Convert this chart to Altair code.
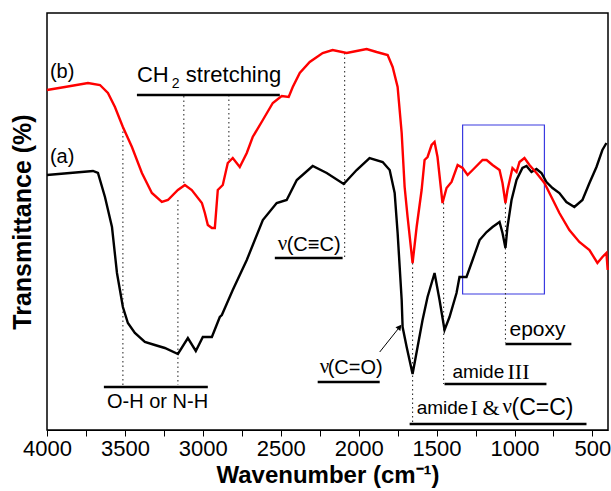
import altair as alt
import pandas as pd

# ---- spectrum (a), black ----
a_wn = [4000, 3853, 3705, 3673, 3628, 3583, 3551, 3513, 3481, 3436, 3372, 3308, 3244, 3160,
        3096, 3045, 3000, 2942, 2891, 2878, 2808, 2718, 2615, 2526, 2462, 2397, 2295, 2205,
        2096, 2013, 1930, 1846, 1801, 1769, 1750, 1724, 1718, 1692, 1654, 1622, 1590, 1558,
        1513, 1481, 1449, 1417, 1372, 1353, 1308, 1269, 1224, 1179, 1141, 1096, 1077, 1058,
        1045, 1019, 987, 949, 923, 891, 859, 827, 795, 756, 712, 667, 616, 564, 519, 474, 436, 410]
a_T = [255, 257, 259, 257, 233, 203, 157, 123, 107, 97, 88, 85, 82, 76,
       92, 79, 93, 93, 113, 115, 140, 170, 210, 227, 230, 250, 264, 257,
       246, 260, 272, 268, 260, 237, 197, 130, 103, 83, 56, 83, 110, 133,
       157, 130, 100, 113, 137, 153, 153, 170, 190, 198, 203, 208, 197, 182,
       203, 230, 250, 262, 264, 258, 261, 257, 248, 242, 237, 228, 223, 230, 247, 263, 280, 287]

# ---- spectrum (b), red ----
b_wn = [4000, 3885, 3737, 3660, 3609, 3564, 3513, 3455, 3391, 3327, 3263, 3224, 3160, 3115,
        3071, 3006, 2987, 2968, 2942, 2923, 2904, 2872, 2840, 2808, 2763, 2718, 2680, 2615,
        2551, 2494, 2449, 2423, 2378, 2314, 2231, 2167, 2077, 2013, 1949, 1885, 1814, 1782,
        1750, 1724, 1705, 1686, 1654, 1628, 1596, 1577, 1558, 1532, 1513, 1494, 1462, 1436,
        1404, 1365, 1333, 1301, 1256, 1205, 1179, 1141, 1096, 1077, 1058, 1045, 1013, 987,
        968, 936, 904, 859, 808, 763, 712, 648, 584, 519, 468, 436, 410, 402]
b_T = [340, 343, 347, 345, 337, 323, 303, 283, 257, 237, 228, 230, 240, 245,
       240, 227, 217, 205, 202, 202, 240, 245, 267, 272, 263, 277, 293, 310,
       327, 334, 333, 343, 357, 368, 377, 380, 377, 379, 381, 378, 375, 363,
       343, 297, 243, 213, 167, 203, 240, 270, 273, 285, 288, 273, 227, 242,
       248, 265, 262, 255, 262, 270, 270, 265, 260, 247, 227, 240, 262, 258,
       268, 272, 265, 257, 247, 233, 217, 200, 188, 180, 167, 173, 177, 160]

# ---- dotted guide lines ----
dot_wn = [3513, 3122, 3160, 2833, 2090, 1654, 1455, 1058]
dot_top = [303, 334, 230, 335, 377, 167, 227, 227]
dot_bot = [45, 245, 45, 267, 172, 5, 46, 87]

# ---- underline bars ----
ul_start = [3423, 3635, 2538, 2263, 1449, 1673, 1058]
ul_end = [2506, 2968, 2103, 1865, 795, 538, 635]
ul_T = [335, 43, 172, 48, 46, 6, 86]

# ---- text labels (left-anchored pieces) ----
sans_text = ["(b)", "(a)", "CH", "2", "stretching", "O-H or N-H", "(C\u2261C)", "(C=O)",
             "amide", "amide", "(C=C)", "epoxy"]
sans_wn = [3981, 3981, 3423, 3199, 3109, 3615, 2462, 2199, 1398, 1628, 1019, 1032]
sans_T = [358, 273, 355, 346, 355, 28, 185, 62, 58, 22, 22, 100]
sans_size = [20, 20, 22, 14, 22, 20, 20, 20, 19, 19, 23, 21]

serif_text = ["\u03bd", "\u03bd", "III", "I", "&", "\u03bd"]
serif_wn = [2519, 2250, 1045, 1282, 1205, 1077]
serif_T = [186, 63, 58, 22, 22, 23]
serif_size = [21, 21, 22, 22, 22, 21]

# ---- arrow to C=O shoulder ----
arrow_wn = [1865, 1737]
arrow_T = [78, 103]

# ---- blue box ----
box_wn = [1333, 808]
box_T = [305, 136]

tick_vals = [4000, 3750, 3500, 3250, 3000, 2750, 2500, 2250, 2000, 1750, 1500, 1250, 1000, 750, 500]

FONT = "Liberation Sans"
SERIF = "Liberation Serif"
xscale = alt.Scale(domain=[400, 4000], reverse=True, nice=False, zero=False)
yscale = alt.Scale(domain=[0, 417], nice=False, zero=False)

spec = pd.concat([
    pd.DataFrame({"wn": a_wn, "T": a_T, "s": "a"}),
    pd.DataFrame({"wn": b_wn, "T": b_T, "s": "b"}),
])

xenc = alt.X("wn:Q", scale=xscale, axis=alt.Axis(
    title="Wavenumber (cm\u207b\u00b9)", values=tick_vals,
    labelExpr="datum.value % 500 == 0 ? datum.label : ''",
    format="d", grid=False, tickSize=6, tickColor="black", domainColor="black",
    labelFlush=False, labelOverlap=False,
    labelFontSize=22, labelFont=FONT, labelColor="black", labelPadding=2,
    titleFontSize=24, titleFont=FONT, titleFontWeight="bold", titleColor="black", titlePadding=4))
yenc = alt.Y("T:Q", scale=yscale, axis=alt.Axis(
    title="Transmittance (%)", labels=False, ticks=False, grid=False, domain=False,
    titleFontSize=25, titleFont=FONT, titleFontWeight="bold", titleColor="black", titlePadding=12))

lines = alt.Chart(spec).mark_line(strokeWidth=2.4).encode(
    x=xenc, y=yenc,
    color=alt.Color("s:N", scale=alt.Scale(domain=["a", "b"], range=["#000000", "#ff0000"]), legend=None),
    detail="s:N")

dots = alt.Chart(pd.DataFrame({"wn": dot_wn, "t1": dot_top, "t2": dot_bot})).mark_rule(
    color="#333333", strokeWidth=1.1, strokeDash=[1.5, 3]).encode(
    x=alt.X("wn:Q", scale=xscale), y=alt.Y("t1:Q", scale=yscale), y2="t2:Q")

ulines = alt.Chart(pd.DataFrame({"w1": ul_start, "w2": ul_end, "t": ul_T})).mark_rule(
    color="black", strokeWidth=2.4).encode(
    x=alt.X("w1:Q", scale=xscale), x2="w2:Q", y=alt.Y("t:Q", scale=yscale))

lab_sans = alt.Chart(pd.DataFrame({"txt": sans_text, "wn": sans_wn, "t": sans_T, "sz": sans_size})).mark_text(
    font=FONT, align="left", baseline="middle", color="black").encode(
    x=alt.X("wn:Q", scale=xscale), y=alt.Y("t:Q", scale=yscale), text="txt:N",
    size=alt.Size("sz:Q", scale=None, legend=None))
lab_serif = alt.Chart(pd.DataFrame({"txt": serif_text, "wn": serif_wn, "t": serif_T, "sz": serif_size})).mark_text(
    font=SERIF, align="left", baseline="middle", color="black").encode(
    x=alt.X("wn:Q", scale=xscale), y=alt.Y("t:Q", scale=yscale), text="txt:N",
    size=alt.Size("sz:Q", scale=None, legend=None))

arrow_line = alt.Chart(pd.DataFrame({"w1": [arrow_wn[0]], "w2": [arrow_wn[1]],
                                     "t1": [arrow_T[0]], "t2": [arrow_T[1]]})).mark_rule(
    color="black", strokeWidth=1).encode(
    x=alt.X("w1:Q", scale=xscale), x2="w2:Q", y=alt.Y("t1:Q", scale=yscale), y2="t2:Q")
arrow_head = alt.Chart(pd.DataFrame({"wn": [arrow_wn[1]], "t": [arrow_T[1]]})).mark_point(
    shape="triangle-up", filled=True, color="black", size=40, angle=39, opacity=1).encode(
    x=alt.X("wn:Q", scale=xscale), y=alt.Y("t:Q", scale=yscale))

box = alt.Chart(pd.DataFrame({"w1": [box_wn[0]], "w2": [box_wn[1]],
                              "t1": [box_T[0]], "t2": [box_T[1]]})).mark_rect(
    fill=None, fillOpacity=0, stroke="#3a3ae0", strokeWidth=1.2).encode(
    x=alt.X("w1:Q", scale=xscale), x2="w2:Q", y=alt.Y("t1:Q", scale=yscale), y2="t2:Q")

chart = alt.layer(box, dots, ulines, lines, arrow_line, arrow_head, lab_sans, lab_serif).properties(
    width=561, height=417,
    autosize=alt.AutoSizeParams(type="none"),
    padding={"left": 47, "top": 13, "right": 3, "bottom": 61},
    background="white",
).configure_view(stroke="black", strokeWidth=1.5)

chart.save("out.html", embed_options={"renderer": "svg", "actions": False})
